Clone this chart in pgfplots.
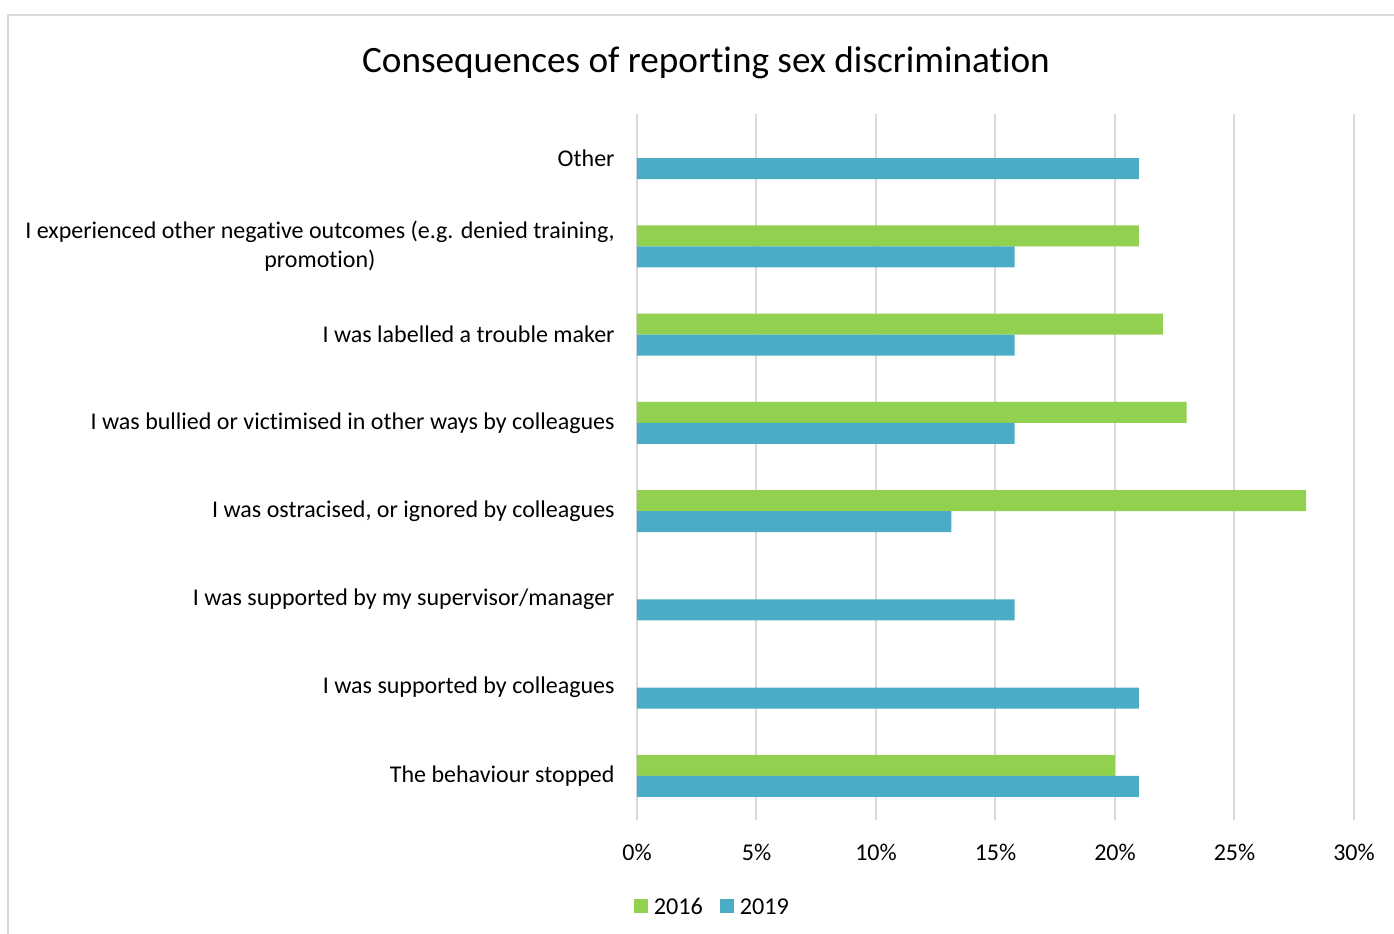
\documentclass[border=0pt]{standalone}
\usepackage{fontspec}
\setmainfont{Carlito}[Ligatures=NoCommon]
\usepackage{pgfplots}
\pgfplotsset{compat=1.18}
\definecolor{g16}{HTML}{92D050}
\definecolor{b19}{HTML}{4BACC6}
\definecolor{gridc}{HTML}{D9D9D9}
\begin{document}
\begin{tikzpicture}
\useasboundingbox (0,0) rectangle (697pt,466.5pt);
\draw[gridc, line width=0.9pt] (4pt,-5pt) -- (4pt,459pt) -- (705pt,459pt);
\node[font=\fontsize{18.6}{22}\selectfont] at (353pt,435pt) {Consequences of reporting sex discrimination};
\begin{axis}[
  at={(318.5pt,56.5pt)}, anchor=south west,
  scale only axis, width=358.5pt, height=353pt,
  xbar, bar width=0.238,
  xmin=0, xmax=30, ymin=-0.5, ymax=7.5,
  xtick={0,5,...,30}, ytick={0,...,7},
  xticklabel={\pgfmathprintnumber{\tick}\%},
  /pgf/number format/assume math mode=true,
  yticklabels={The behaviour stopped, I was supported by colleagues, I was supported by my supervisor/manager, {I was ostracised, or ignored by colleagues}, I was bullied or victimised in other ways by colleagues, I was labelled a trouble maker, {I experienced other negative outcomes (e.g. denied training,\\promotion)}, Other},
  ticklabel style={font=\fontsize{12}{14.6}\selectfont},
  yticklabel style={align=center, anchor=east, inner sep=0pt, xshift=-11pt},
  xticklabel style={anchor=center, inner sep=0pt, yshift=-16pt},
  axis line style={draw=none},
  major tick length=0pt,
  xmajorgrids, grid style={gridc, line width=1pt},
  legend columns=2,
  legend style={draw=none, at={(0.108,-0.1225)}, anchor=center, font=\fontsize{12.1}{14.6}\selectfont,
    /tikz/every even column/.append style={column sep=5.5pt},
    nodes={inner sep=3pt, text depth=0pt}},
  legend image code/.code={\fill[#1] (0pt,-3.5pt) rectangle (7pt,3.5pt);},
]
\addplot[fill=g16, draw=none, bar shift=0.119] coordinates {(20,0) (28,3) (23,4) (22,5) (21,6)};
\addplot[fill=b19, draw=none, bar shift=-0.119] coordinates {(21,0) (21,1) (15.8,2) (13.15,3) (15.8,4) (15.8,5) (15.8,6) (21,7)};
\legend{2016,2019}
\end{axis}
\end{tikzpicture}
\end{document}
